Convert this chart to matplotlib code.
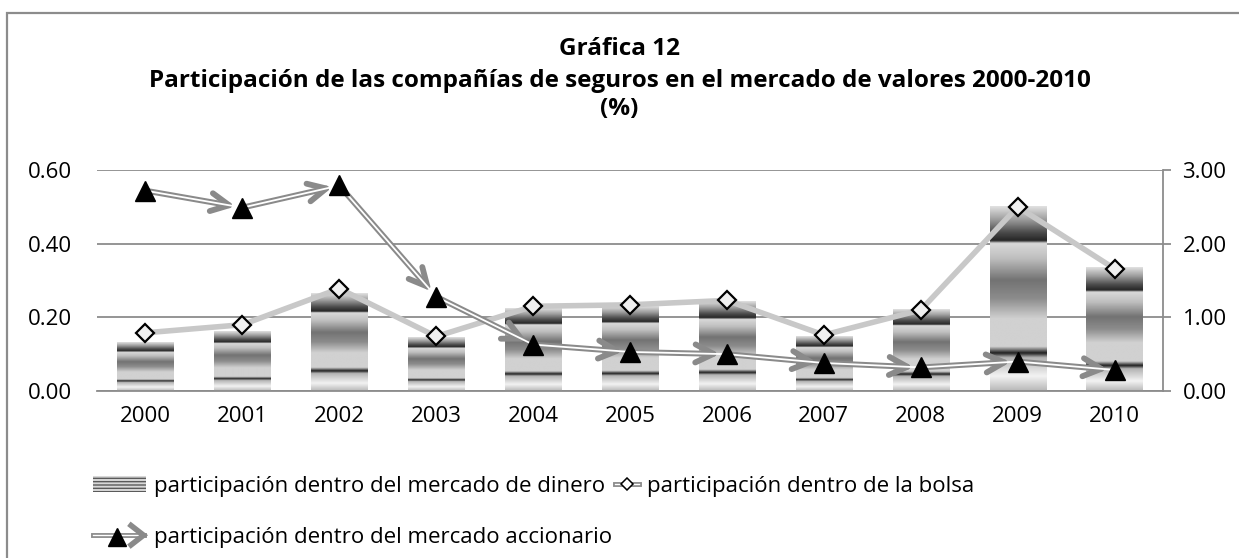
import numpy as np
import matplotlib.pyplot as plt
from matplotlib.patches import Rectangle, Patch
from matplotlib.lines import Line2D
from matplotlib.legend_handler import HandlerBase

plt.rcParams['font.family'] = ['Open Sans', 'DejaVu Sans']

years = ['2000', '2001', '2002', '2003', '2004', '2005', '2006', '2007', '2008', '2009', '2010']
dinero = [0.131, 0.161, 0.265, 0.144, 0.225, 0.229, 0.243, 0.149, 0.220, 0.500, 0.334]
bolsa = [0.79, 0.90, 1.39, 0.74, 1.15, 1.17, 1.23, 0.76, 1.10, 2.50, 1.66]
accionario = [2.72, 2.49, 2.79, 1.28, 0.63, 0.53, 0.50, 0.38, 0.32, 0.40, 0.285]

lab_dinero = 'participación dentro del mercado de dinero'
lab_bolsa = 'participación dentro de la bolsa'
lab_acc = 'participación dentro del mercado accionario'

GRID = '#8c8c8c'
LINE = '#8a8a8a'
FS = 16

# chrome-like gradient used for the bars (bottom -> top)
stop_t = [0.0, 0.08, 0.18, 0.205, 0.24, 0.39, 0.50, 0.60, 0.72, 0.80, 0.815, 0.86, 0.93, 1.0]
stop_v = [0.72, 0.95, 0.70, 0.12, 0.82, 0.82, 0.55, 0.45, 0.75, 0.85, 0.15, 0.30, 0.62, 0.88]
grad = np.interp(np.linspace(0, 1, 300), stop_t, stop_v).reshape(-1, 1)

fig = plt.figure(figsize=(12.39, 5.58), dpi=100)
ax = fig.add_axes([0.0783, 0.2993, 0.8604, 0.396])
ax2 = ax.twinx()

x = np.arange(len(years))
bars = ax.bar(x, dinero, width=0.58, color='none', zorder=2)
for r in bars:
    x0, w, h = r.get_x(), r.get_width(), r.get_height()
    ax.imshow(grad, extent=[x0, x0 + w, 0, h], origin='lower', cmap='gray',
              vmin=0, vmax=1, aspect='auto', interpolation='bilinear', zorder=2)

ax.set_xlim(-0.5, len(years) - 0.5)
ax.set_ylim(0, 0.6)
ax.set_yticks([0, 0.2, 0.4, 0.6])
ax.set_yticklabels(['0.00', '0.20', '0.40', '0.60'])
ax.set_xticks(x)
ax.set_xticklabels(years)
ax.grid(axis='y', color=GRID, lw=1.3, zorder=0)
ax.set_axisbelow(True)
for s in ['left', 'top', 'right']:
    ax.spines[s].set_visible(False)
ax.spines['bottom'].set_color(GRID)
ax.spines['bottom'].set_linewidth(1.3)
ax.tick_params(axis='y', length=0, pad=18, labelsize=FS)
ax.tick_params(axis='x', length=0, pad=11, labelsize=FS)

# bolsa line
ax2.plot(x, bolsa, color='#c8c8c8', lw=4, solid_capstyle='round', zorder=3)
ax2.plot(x, bolsa, ls='none', marker='D', ms=9, mfc='#f0f0f0', mec='black', mew=1.6, zorder=6)

# accionario line: double line with open arrowheads
for i in range(len(x) - 1):
    ax2.annotate('', xy=(x[i + 1], accionario[i + 1]), xytext=(x[i], accionario[i]),
                 arrowprops=dict(arrowstyle='->,head_length=1.3,head_width=0.65', color=LINE,
                                 lw=4.2, shrinkA=0, shrinkB=5, capstyle='round'),
                 zorder=4)
ax2.plot(x, accionario, color='white', lw=1.3, zorder=5)
ax2.plot(x, accionario, ls='none', marker='^', ms=15, color='black', zorder=7)

ax2.set_ylim(0, 3)
ax2.set_yticks([0, 1, 2, 3])
ax2.set_yticklabels(['0.00', '1.00', '2.00', '3.00'])
for s in ['left', 'top', 'bottom']:
    ax2.spines[s].set_visible(False)
ax2.spines['right'].set_color(GRID)
ax2.spines['right'].set_linewidth(1.3)
ax2.tick_params(axis='y', length=6, width=1.3, color=GRID, pad=8, labelsize=FS)

fig.text(0.5, 0.912, 'Gráfica 12', ha='center', va='center', fontsize=17.5, fontweight='bold')
fig.text(0.5, 0.855, 'Participación de las compañías de seguros en el mercado de valores 2000-2010',
         ha='center', va='center', fontsize=17.5, fontweight='bold')
fig.text(0.5, 0.805, '(%)', ha='center', va='center', fontsize=17.5, fontweight='bold')

fig.patches.append(Rectangle((0.0056, -0.1), 1.2, 1.077, transform=fig.transFigure,
                             fill=False, edgecolor=GRID, lw=1.6))


class DoubleLineHandler(HandlerBase):
    def __init__(self, kind):
        super().__init__()
        self.kind = kind

    def create_artists(self, legend, orig, xd, yd, w, h, fontsize, trans):
        y = (h - yd) / 2
        x0, x1 = -xd, -xd + w
        arts = []
        if self.kind == 'bolsa':
            # short handle drawn at the right end of the box
            a = x1 - 17
            arts.append(Line2D([a, x1], [y, y], color=LINE, lw=3.5))
            arts.append(Line2D([a, x1], [y, y], color='white', lw=1.0))
            arts.append(Line2D([(a + x1) / 2], [y], marker='D', ms=6, mfc='white',
                               mec='black', mew=1.1))
        else:
            tip = x1 - 2
            arts.append(Line2D([x0, tip], [y, y], color=LINE, lw=3.5))
            arts.append(Line2D([x0, tip], [y, y], color='white', lw=1.0))
            arts.append(Line2D([tip - 9, tip, tip - 9], [y + 7, y, y - 7], color=LINE, lw=4,
                               solid_joinstyle='miter'))
            arts.append(Line2D([x0 + 0.45 * w], [y - 1], marker='^', ms=13, color='black'))
        for a in arts:
            a.set_transform(trans)
        return arts


h_dinero = Patch(facecolor='#d8d8d8', edgecolor='#5a5a5a', hatch='-----', lw=0)
h_bolsa = Line2D([], [])
h_acc = Line2D([], [], ls='--')
fig.legend([h_dinero, h_acc, h_bolsa], [lab_dinero, lab_acc, lab_bolsa],
           handler_map={h_bolsa: DoubleLineHandler('bolsa'), h_acc: DoubleLineHandler('acc')},
           loc='upper left', bbox_to_anchor=(93 / 1239, 1 - 476 / 558), ncol=2,
           frameon=False, fontsize=FS, handlelength=2.4, handletextpad=0.35,
           labelspacing=1.35, columnspacing=-1.2, borderpad=0, borderaxespad=0)

fig.savefig('out.png', dpi=100)
